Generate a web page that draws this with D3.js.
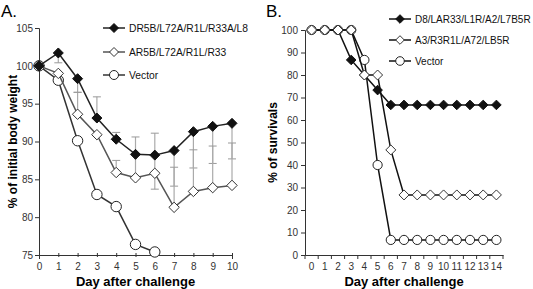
<!DOCTYPE html>
<html>
<head>
<meta charset="utf-8">
<script src="https://cdn.jsdelivr.net/npm/d3@7"></script>
<style>
  body { margin: 0; background: #fff; }
  svg { font-family: "Liberation Sans", Arial, sans-serif; }
</style>
</head>
<body>
<div id="chart"></div>
<script>
// panel A: body weight
var daysA = [0, 1, 2, 3, 4, 5, 6, 7, 8, 9, 10];
var drMean = [100, 101.7, 98.3, 93.1, 90.3, 88.3, 88.2, 88.8, 91.3, 92.0, 92.4];
var drHi = [null, null, null, 95.9, 91.2, 90.6, 91.1, null, null, null, null];
var drLo = [null, 100.4, 96.5, null, null, 85.4, 85.9, 84.1, 86.5, 87.1, 87.7];
var arMean = [100, 99.0, 93.6, 90.9, 85.9, 85.2, 85.8, 81.3, 83.4, 83.9, 84.2];
var arHi = [null, null, 96.5, null, 87.5, null, null, 86.6, 88.9, 89.4, 89.8];
var arLo = [null, null, null, null, null, null, 83.7, null, null, null, null];
var vecA = [100, 98.1, 90.1, 83.0, 81.4, 76.4, 75.4];
var ticksA = [75, 80, 85, 90, 95, 100, 105];
var namesA = ["DR5B/L72A/R1L/R33A/L8", "AR5B/L72A/R1L/R33", "Vector"];

// panel B: survival
var daysB = [0, 1, 2, 3, 4, 5, 6, 7, 8, 9, 10, 11, 12, 13, 14];
var d8Surv = [100, 100, 100, 86.7, 80, 73.3, 66.7, 66.7, 66.7, 66.7, 66.7, 66.7, 66.7, 66.7, 66.7];
var a3Surv = [100, 100, 100, 100, 80, 80, 46.7, 26.7, 26.7, 26.7, 26.7, 26.7, 26.7, 26.7, 26.7];
var vecB = [100, 100, 100, 100, 86.7, 40, 6.7, 6.7, 6.7, 6.7, 6.7, 6.7, 6.7, 6.7, 6.7];
var ticksB = [0, 10, 20, 30, 40, 50, 60, 70, 80, 90, 100];
var namesB = ["D8/LAR33/L1R/A2/L7B5R", "A3/R3R1L/A72/LB5R", "Vector"];

function init() {
    var w = 533, h = 289;
    var svg = d3.select("#chart").append("svg")
        .attr("width", w).attr("height", h);

    function diamond(r) {
        return "M0," + (-r) + "L" + r + ",0L0," + r + "L" + (-r) + ",0Z";
    }

    function drawSeries(g, x, y, xs, vals, kind, lineColor, size) {
        var line = d3.line()
            .x(function (d, i) { return x(xs[i]); })
            .y(function (d) { return y(d); });
        g.append("path").datum(vals)
            .attr("d", line)
            .attr("fill", "none")
            .attr("stroke", lineColor)
            .attr("stroke-width", 1.5);
        var pts = g.selectAll(null).data(vals).enter();
        if (kind == "circle") {
            pts.append("circle")
                .attr("cx", function (d, i) { return x(xs[i]); })
                .attr("cy", function (d) { return y(d); })
                .attr("r", size)
                .attr("fill", "#fff")
                .attr("stroke", "#222").attr("stroke-width", 1);
        } else {
            pts.append("path")
                .attr("transform", function (d, i) { return "translate(" + x(xs[i]) + "," + y(d) + ")"; })
                .attr("d", diamond(size))
                .attr("fill", kind == "filled" ? "#111" : "#fff")
                .attr("stroke", kind == "filled" ? "#111" : "#333")
                .attr("stroke-width", 1);
        }
    }

    function legend(g, x0, ys, names, kinds, colors, size, fs) {
        names.forEach(function (n, i) {
            var y = ys[i];
            g.append("line").attr("x1", x0).attr("x2", x0 + 22)
                .attr("y1", y).attr("y2", y)
                .attr("stroke", colors[i]).attr("stroke-width", 1.5);
            if (kinds[i] == "circle") {
                g.append("circle").attr("cx", x0 + 11).attr("cy", y).attr("r", size)
                    .attr("fill", "#fff").attr("stroke", "#222");
            } else {
                g.append("path").attr("transform", "translate(" + (x0 + 11) + "," + y + ")")
                    .attr("d", diamond(size))
                    .attr("fill", kinds[i] == "filled" ? "#111" : "#fff")
                    .attr("stroke", kinds[i] == "filled" ? "#111" : "#333");
            }
            g.append("text").attr("x", x0 + 26).attr("y", y + 4)
                .attr("font-size", fs).attr("fill", "#111").text(n);
        });
    }

    // ---------- Panel A ----------
    var xA = d3.scaleLinear().domain([0, 10]).range([39, 232]);
    var yA = d3.scaleLinear().domain([75, 105]).range([255, 28]);
    var gA = svg.append("g");

    gA.append("text").attr("x", 1).attr("y", 17).attr("font-size", 17).text("A.");

    var axA = gA.append("g").attr("transform", "translate(0,255)")
        .call(d3.axisBottom(xA).tickValues(daysA).tickSize(4).tickPadding(4).tickFormat(d3.format("d")));
    axA.selectAll(".tick line").attr("y1", -2).attr("y2", 2);
    var ayA = gA.append("g").attr("transform", "translate(39,0)")
        .call(d3.axisLeft(yA).tickValues(ticksA).tickSize(4).tickPadding(2));
    [axA, ayA].forEach(function (a) {
        a.select(".domain").attr("stroke", "#333");
        a.selectAll(".tick line").attr("stroke", "#333");
        a.selectAll("text").attr("font-size", 10).attr("fill", "#333")
            .attr("font-family", "Liberation Sans, Arial, sans-serif");
    });

    // error bars
    function errBars(mean, ends) {
        daysA.forEach(function (d, i) {
            if (ends[i] == null) return;
            gA.append("line").attr("x1", xA(d)).attr("x2", xA(d))
                .attr("y1", yA(mean[i])).attr("y2", yA(ends[i]))
                .attr("stroke", "#aaa").attr("stroke-width", 1.2);
            gA.append("line").attr("x1", xA(d) - 4).attr("x2", xA(d) + 4)
                .attr("y1", yA(ends[i])).attr("y2", yA(ends[i]))
                .attr("stroke", "#999").attr("stroke-width", 1);
        });
    }
    errBars(drMean, drHi);
    errBars(drMean, drLo);
    errBars(arMean, arHi);
    errBars(arMean, arLo);

    drawSeries(gA, xA, yA, daysA, vecA, "circle", "#333", 5.2);
    drawSeries(gA, xA, yA, daysA, arMean, "open", "#555", 5.2);
    drawSeries(gA, xA, yA, daysA, drMean, "filled", "#222", 5);

    legend(gA, 103, [28, 52, 75], namesA, ["filled", "open", "circle"], ["#222", "#555", "#333"], 4.5, 10.3);

    gA.append("text").attr("x", xA(5)).attr("y", 286)
        .attr("text-anchor", "middle").attr("font-size", 13).attr("font-weight", "bold")
        .text("Day after challenge");
    gA.append("text")
        .attr("transform", "translate(17," + ((28 + 255) / 2) + ") rotate(-90)")
        .attr("text-anchor", "middle").attr("font-size", 12).attr("font-weight", "bold")
        .text("% of initial body weight");

    // ---------- Panel B ----------
    var xB = d3.scaleBand().domain(daysB).range([305, 503]);
    var cx = function (d) { return xB(d) + xB.bandwidth() / 2; };
    var yB = d3.scaleLinear().domain([0, 100]).range([255, 30]);
    var gB = svg.append("g");

    gB.append("text").attr("x", 266).attr("y", 17).attr("font-size", 17).text("B.");

    var axB = gB.append("g").attr("transform", "translate(0,255)")
        .call(d3.axisBottom(xB).tickSize(0).tickPadding(8));
    axB.selectAll(".bnd").data(daysB.concat([15])).enter().append("line")
        .attr("x1", function (d) { return 305 + d * xB.step(); })
        .attr("x2", function (d) { return 305 + d * xB.step(); })
        .attr("y1", 0).attr("y2", 4).attr("stroke", "#333");
    var ayB = gB.append("g").attr("transform", "translate(305,0)")
        .call(d3.axisLeft(yB).tickValues(ticksB).tickSize(4).tickPadding(3));
    [axB, ayB].forEach(function (a) {
        a.select(".domain").attr("stroke", "#333");
        a.selectAll(".tick line").attr("stroke", "#333");
        a.selectAll("text").attr("font-size", 10).attr("fill", "#333")
            .attr("font-family", "Liberation Sans, Arial, sans-serif");
    });

    drawSeries(gB, cx, yB, daysB, d8Surv, "filled", "#111", 4.8);
    drawSeries(gB, cx, yB, daysB, vecB, "circle", "#111", 4.6);
    drawSeries(gB, cx, yB, daysB, a3Surv, "open", "#111", 5);

    legend(gB, 389, [19, 40, 61], namesB, ["filled", "open", "circle"], ["#111", "#111", "#111"], 4.3, 10);

    gB.append("text").attr("x", 404).attr("y", 286)
        .attr("text-anchor", "middle").attr("font-size", 13).attr("font-weight", "bold")
        .text("Day after challenge");
    gB.append("text")
        .attr("transform", "translate(277," + ((30 + 255) / 2) + ") rotate(-90)")
        .attr("text-anchor", "middle").attr("font-size", 12).attr("font-weight", "bold")
        .text("% of survivals");
}

window.onload = init;
</script>
</body>
</html>
